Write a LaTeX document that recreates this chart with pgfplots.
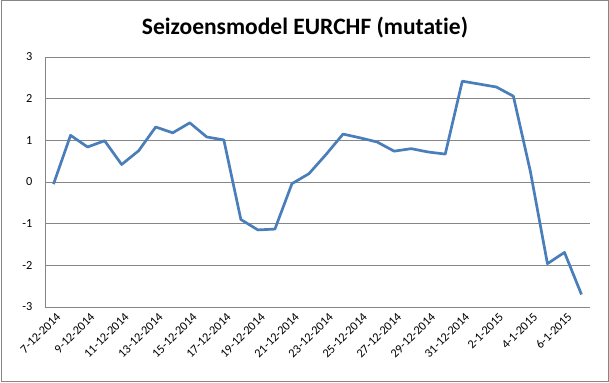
\documentclass[border=0pt]{standalone}
\usepackage{fontspec}
\setmainfont[Ligatures=NoCommon]{Carlito}
\usepackage{pgfplots}
\pgfplotsset{compat=1.18}
\definecolor{exblue}{RGB}{74,126,187}
\definecolor{gridgray}{RGB}{134,134,134}
\begin{document}
\begin{tikzpicture}[x=1pt,y=1pt]
\useasboundingbox (0,0) rectangle (609,382);
\draw[gridgray,line width=1pt] (1,1) rectangle (608,381);
\node[font=\fontsize{23.5}{25}\selectfont\bfseries,anchor=base] at (305,382-35) {Seizoensmodel EURCHF (mutatie)};
\begin{axis}[
  at={(45pt,75pt)}, anchor=south west,
  scale only axis, width=545pt, height=250pt,
  xmin=-0.5, xmax=31.5, ymin=-3, ymax=3,
  ytick={-3,-2,...,3},
  xtick={0,2,...,30},
  xticklabels={7-12-2014,9-12-2014,11-12-2014,13-12-2014,15-12-2014,17-12-2014,19-12-2014,21-12-2014,23-12-2014,25-12-2014,27-12-2014,29-12-2014,31-12-2014,2-1-2015,4-1-2015,6-1-2015},
  xticklabel style={rotate=45, anchor=north east, font=\fontsize{12.3}{13}\selectfont, inner sep=1pt, yshift=-4pt, xshift=-1pt},
  yticklabel style={font=\fontsize{12.3}{13}\selectfont, xshift=-9pt},
  /pgf/number format/assume math mode=true,
  major tick length=0pt,
  ymajorgrids, grid style={gridgray, line width=0.9pt},
  axis line style={gridgray, line width=0.9pt},
  axis x line*=bottom, axis y line*=left,
  clip=false,
]
\addplot[exblue, line width=2.7pt, line join=round] coordinates {
(0,-0.05) (1,1.12) (2,0.84) (3,0.99) (4,0.42) (5,0.75) (6,1.32) (7,1.18)
(8,1.42) (9,1.08) (10,1.01) (11,-0.90) (12,-1.15) (13,-1.13) (14,-0.04) (15,0.20)
(16,0.66) (17,1.15) (18,1.06) (19,0.96) (20,0.74) (21,0.80) (22,0.72) (23,0.67)
(24,2.42) (25,2.35) (26,2.28) (27,2.06) (28,0.25) (29,-1.96) (30,-1.69) (31,-2.70)
};
\end{axis}
\end{tikzpicture}
\end{document}
